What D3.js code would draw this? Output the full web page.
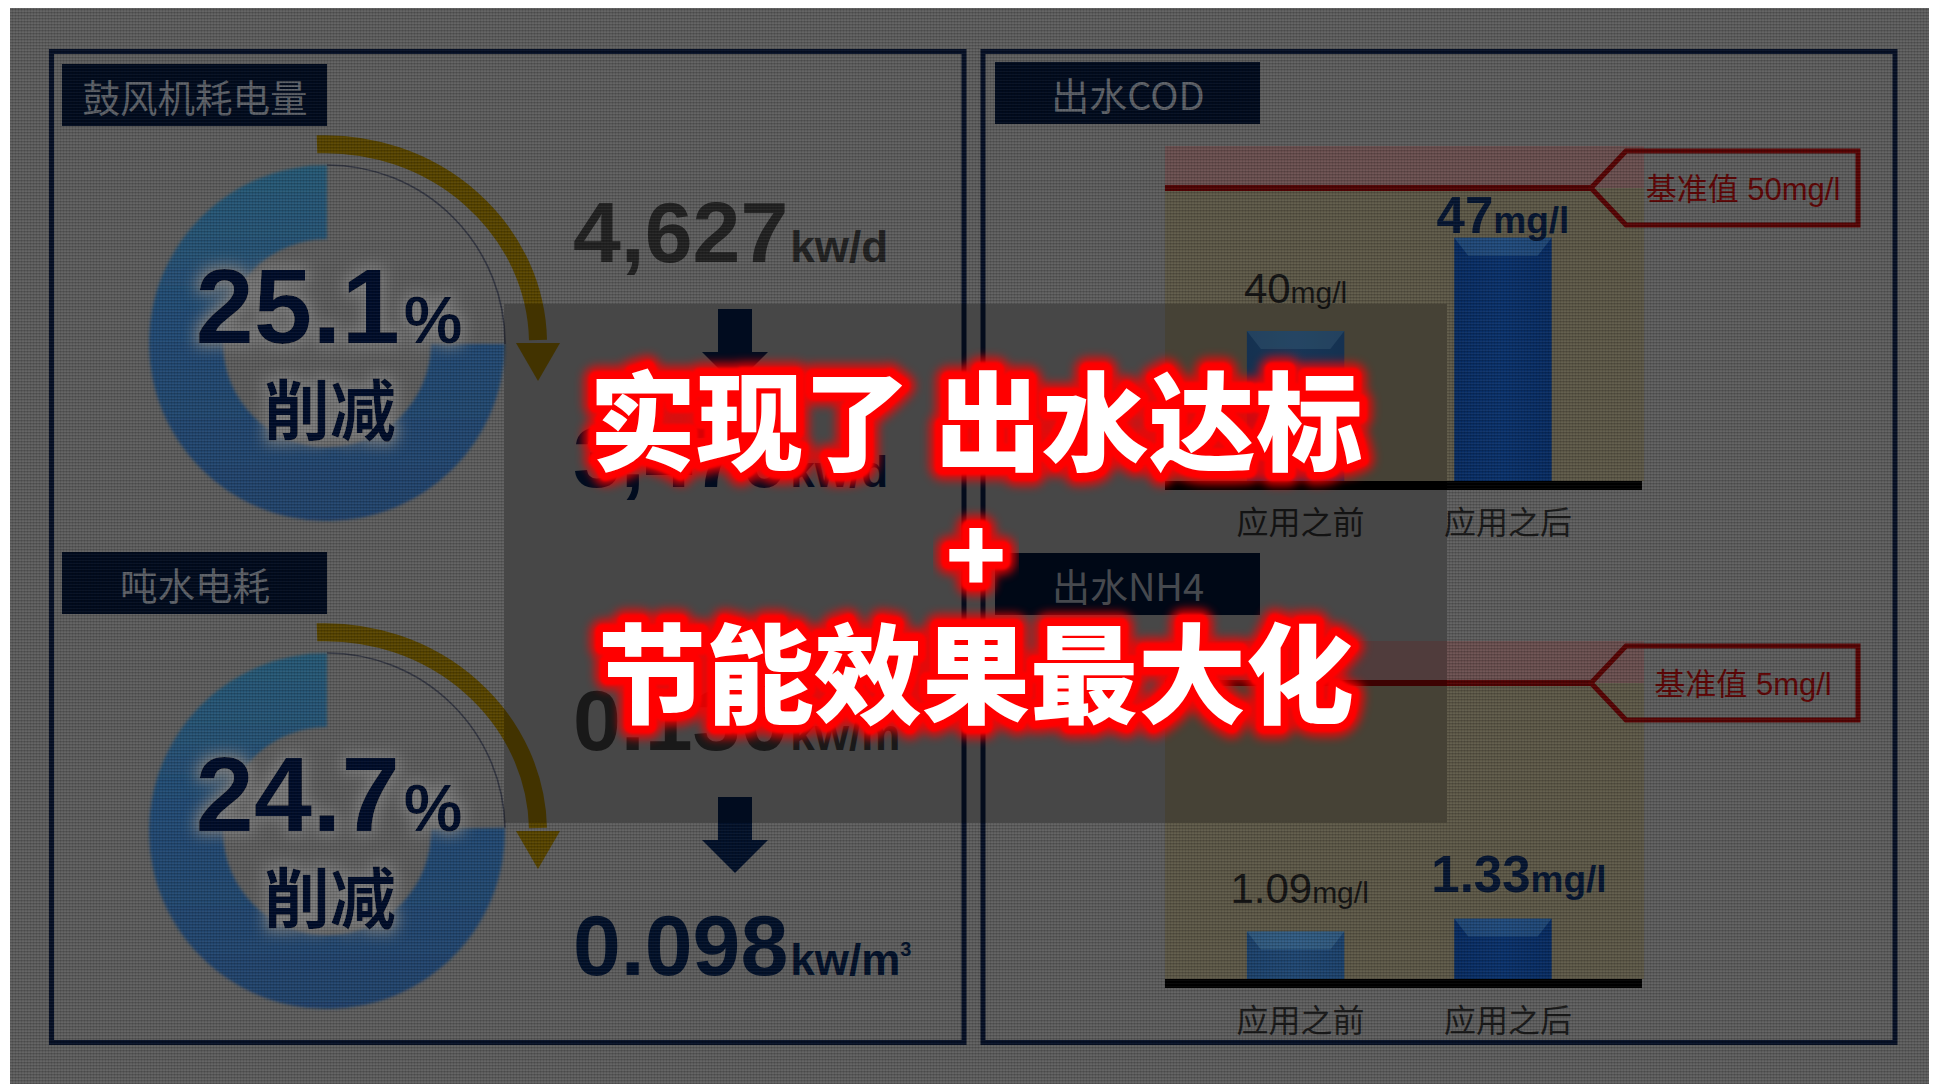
<!DOCTYPE html>
<html>
<head>
<meta charset="utf-8">
<script src="https://cdn.jsdelivr.net/npm/d3@7"></script>
<style>
  html, body { margin: 0; padding: 0; background: #ffffff; overflow: hidden; }
  svg { display: block; }
</style>
</head>
<body>
<svg id="chart" width="1934" height="1084"></svg>
<script>
// ---- energy panel data ----
const energyTitles = ["鼓风机耗电量", "吨水电耗"];
const reductionPct = [25.1, 24.7];
const reductionLabel = "削减";
const beforeValues = [4627, 0.130];
const afterValues = [3470, 0.098];
const valueFormats = [",", ".3f"];
const energyUnits = ["kw/d", "kw/m"];
const unitSuperscripts = ["", "3"];

// ---- water quality data ----
const qualityTitles = ["出水COD", "出水NH4"];
const stageLabels = ["应用之前", "应用之后"];
const codValues = [40, 47];
const nh4Values = [1.09, 1.33];
const limitValues = [50, 5];
const limitPrefix = "基准值";
const concUnit = "mg/l";

// ---- headline ----
const headlineLines = ["实现了 出水达标", "+", "节能效果最大化"];

const svg = d3.select("#chart");
const W = 1934, H = 1084;
const CJK = "'Noto Sans CJK SC', 'Noto Sans', sans-serif";
const LAT = "'Liberation Sans', Arial, 'Noto Sans CJK SC', sans-serif";

// ---------- defs ----------
const defs = svg.append("defs");

// fine woven surface texture (mostly darkening lines)
const mesh = defs.append("pattern").attr("id", "mesh")
  .attr("width", 3).attr("height", 3).attr("patternUnits", "userSpaceOnUse");
mesh.append("rect").attr("width", 3).attr("height", 1).attr("fill", "#000").attr("fill-opacity", 0.13);
mesh.append("rect").attr("width", 1).attr("height", 3).attr("fill", "#000").attr("fill-opacity", 0.1);
mesh.append("rect").attr("y", 2).attr("width", 3).attr("height", 1).attr("fill", "#fff").attr("fill-opacity", 0.04);

const ringGrad = defs.append("linearGradient").attr("id", "ringGrad")
  .attr("x1", 0).attr("y1", 0).attr("x2", 0).attr("y2", 1);
ringGrad.append("stop").attr("offset", "0%").attr("stop-color", "#285a76");
ringGrad.append("stop").attr("offset", "45%").attr("stop-color", "#234b74");
ringGrad.append("stop").attr("offset", "100%").attr("stop-color", "#20436c");

const soft = defs.append("filter").attr("id", "soft")
  .attr("x", "-10%").attr("y", "-10%").attr("width", "120%").attr("height", "120%");
soft.append("feGaussianBlur").attr("stdDeviation", 1.6);

const halo = defs.append("filter").attr("id", "halo")
  .attr("x", "-30%").attr("y", "-30%").attr("width", "160%").attr("height", "160%");
halo.append("feMorphology").attr("in", "SourceAlpha").attr("operator", "dilate").attr("radius", 4).attr("result", "d");
halo.append("feGaussianBlur").attr("in", "d").attr("stdDeviation", 7).attr("result", "b");
halo.append("feFlood").attr("flood-color", "#7e7e7e").attr("flood-opacity", 0.95);
halo.append("feComposite").attr("in2", "b").attr("operator", "in").attr("result", "g");
const hm = halo.append("feMerge");
hm.append("feMergeNode").attr("in", "g");
hm.append("feMergeNode").attr("in", "SourceGraphic");

const glowWide = defs.append("filter").attr("id", "glowWide")
  .attr("x", "-20%").attr("y", "-40%").attr("width", "140%").attr("height", "180%");
glowWide.append("feGaussianBlur").attr("stdDeviation", 5);
const glowTight = defs.append("filter").attr("id", "glowTight")
  .attr("x", "-20%").attr("y", "-40%").attr("width", "140%").attr("height", "180%");
glowTight.append("feGaussianBlur").attr("stdDeviation", 1.2);

["before", "after"].forEach((k, i) => {
  const g = defs.append("linearGradient").attr("id", "bar-" + k)
    .attr("x1", 0).attr("y1", 0).attr("x2", 1).attr("y2", 0);
  const c = i === 0 ? ["#1c426c", "#204874", "#1c426c"] : ["#082c62", "#0a326c", "#082c62"];
  g.append("stop").attr("offset", "0%").attr("stop-color", c[0]);
  g.append("stop").attr("offset", "50%").attr("stop-color", c[1]);
  g.append("stop").attr("offset", "100%").attr("stop-color", c[2]);
});

// ---------- background ----------
const area = { x: 10, y: 8, w: 1919, h: H - 8 };
svg.append("rect").attr("width", W).attr("height", H).attr("fill", "#ffffff");
svg.append("rect").attr("x", area.x).attr("y", area.y).attr("width", area.w).attr("height", area.h)
  .attr("fill", "#5f5f5f");

const panelColor = "#061026";
const boxColor = "#010b1e";
const panels = [
  { x: 51.5, y: 51.5, w: 912.5, h: 991 },
  { x: 983, y: 51.5, w: 912, h: 991 }
];
svg.selectAll("rect.panel").data(panels).join("rect").attr("class", "panel")
  .attr("x", d => d.x).attr("y", d => d.y).attr("width", d => d.w).attr("height", d => d.h)
  .attr("fill", "none").attr("stroke", panelColor).attr("stroke-width", 5);

const ROW = 488;

// ---------- energy (left) panel ----------
const pie = d3.pie().sort(null).value(d => d);
const ringArc = d3.arc().innerRadius(104).outerRadius(178);
const rimArc = d3.arc().innerRadius(178).outerRadius(178);
const fmtPct = d3.format(".1f");

energyTitles.forEach((title, i) => {
  const oy = i * ROW;
  const g = svg.append("g");

  // title box
  g.append("rect").attr("x", 62).attr("y", 64 + oy).attr("width", 265).attr("height", 62)
    .attr("fill", boxColor);
  g.append("text").attr("x", 195).attr("y", 95 + oy)
    .attr("text-anchor", "middle").attr("dominant-baseline", "central")
    .attr("font-family", CJK).attr("font-size", 37.5).attr("fill", "#5e6269")
    .text(title);

  // donut: reduced share left open, remaining share filled
  const cx = 327, cy = 343 + oy;
  const slices = pie([reductionPct[i], 100 - reductionPct[i]]);
  const dg = g.append("g").attr("transform", `translate(${cx},${cy})`);
  dg.append("path").attr("d", ringArc(slices[1])).attr("fill", "url(#ringGrad)")
    .attr("filter", "url(#soft)");
  dg.append("path").attr("d", rimArc(slices[0])).attr("fill", "none")
    .attr("stroke", "#343743").attr("stroke-width", 1.6);

  // curved arrow over the reduced share
  const rx = 213, ry = 200, ax = 325, ay = 344 + oy;
  const arcPath = `M${ax - 8},${ay - ry + 0.3} A${rx},${ry} 0 0 1 ${ax + rx},${ay - 4}`;
  g.append("path").attr("d", arcPath).attr("fill", "none")
    .attr("stroke", "#584500").attr("stroke-width", 18);
  g.append("path")
    .attr("d", `M${ax + rx - 22},${ay - 1} L${ax + rx + 22},${ay - 1} L${ax + rx},${ay + 37} Z`)
    .attr("fill", "#584500");

  // percentage label
  const pt = g.append("text").attr("x", 329).attr("y", 343 + oy)
    .attr("text-anchor", "middle").attr("font-family", LAT).attr("font-weight", "bold")
    .attr("fill", "#00102a").attr("filter", "url(#halo)");
  pt.append("tspan").attr("font-size", 105).text(fmtPct(reductionPct[i]));
  pt.append("tspan").attr("font-size", 66).attr("dx", 4).text("%");
  g.append("text").attr("x", 330).attr("y", 406 + oy)
    .attr("text-anchor", "middle").attr("dominant-baseline", "central")
    .attr("font-family", CJK).attr("font-weight", "bold").attr("font-size", 66)
    .attr("fill", "#00102a").attr("filter", "url(#halo)")
    .text(reductionLabel);

  // before / after values
  const fmt = d3.format(valueFormats[i]);
  const addValue = (v, y, color) => {
    const t = g.append("text").attr("x", 573).attr("y", y)
      .attr("font-family", LAT).attr("font-weight", "bold").attr("fill", color);
    t.append("tspan").attr("font-size", 86).text(fmt(v));
    t.append("tspan").attr("font-size", 44).attr("dx", 2).text(energyUnits[i]);
    if (unitSuperscripts[i]) {
      t.append("tspan").attr("font-size", 20).attr("dy", -19).text(unitSuperscripts[i]);
    }
  };
  addValue(beforeValues[i], 262 + oy, "#222222");
  addValue(afterValues[i], 487 + oy, "#02112a");

  // down arrow
  const axc = 735, top = 309 + oy;
  g.append("path")
    .attr("d", `M${axc - 17},${top} L${axc + 17},${top} L${axc + 17},${top + 43} L${axc + 33},${top + 43} L${axc},${top + 76} L${axc - 33},${top + 43} L${axc - 17},${top + 43} Z`)
    .attr("fill", "#02112a");
});

// ---------- water quality (right) panel ----------
const x = d3.scaleBand().domain(stageLabels).range([1165, 1644])
  .paddingInner(0.53).paddingOuter(0.42).align(0.47);

const charts = [
  { title: qualityTitles[0], values: codValues, limit: limitValues[0],
    y: d3.scalePow().exponent(3).domain([0, limitValues[0]]).range([481, 188]),
    titleY: 62, valueFmt: d3.format("d"), labelGap: [28, 5], labelDx: [0, 0] },
  { title: qualityTitles[1], values: nh4Values, limit: limitValues[1],
    y: d3.scalePow().exponent(1.2).domain([0, limitValues[1]]).range([979, 683]),
    titleY: 553, valueFmt: d3.format(".2f"), labelGap: [28, 27], labelDx: [4, 16] }
];

charts.forEach(c => {
  const g = svg.append("g");
  const [x0, x1] = x.range();
  const base = c.y(0), lim = c.y(c.limit);

  g.append("rect").attr("x", 995).attr("y", c.titleY).attr("width", 265).attr("height", 62)
    .attr("fill", boxColor);
  g.append("text").attr("x", 1128).attr("y", c.titleY + 31)
    .attr("text-anchor", "middle").attr("dominant-baseline", "central")
    .attr("font-family", CJK).attr("font-size", 38).attr("fill", "#5e6269")
    .text(c.title);

  // plot background and limit band
  g.append("rect").attr("x", x0).attr("y", lim).attr("width", x1 - x0).attr("height", base - lim)
    .attr("fill", "#5e5948");
  g.append("rect").attr("x", x0).attr("y", lim - 42).attr("width", x1 - x0).attr("height", 42)
    .attr("fill", "#6b5050");

  // bars
  c.values.forEach((v, j) => {
    const bx = x(stageLabels[j]), bw = x.bandwidth(), by = c.y(v);
    g.append("rect").attr("x", bx).attr("y", by).attr("width", bw).attr("height", base - by)
      .attr("fill", `url(#bar-${j === 0 ? "before" : "after"})`);
    g.append("path")
      .attr("d", `M${bx},${by} L${bx + bw},${by} L${bx + bw - 14},${by + 18} L${bx + 14},${by + 18} Z`)
      .attr("fill", "#7fb4c8").attr("fill-opacity", 0.2);
    // value label
    const strong = j === 1;
    const t = g.append("text").attr("x", bx + bw / 2 + c.labelDx[j]).attr("y", by - c.labelGap[j])
      .attr("text-anchor", "middle").attr("font-family", LAT)
      .attr("font-weight", strong ? "bold" : "normal")
      .attr("fill", strong ? "#061632" : "#141414");
    t.append("tspan").attr("font-size", strong ? 51 : 42).text(c.valueFmt(v));
    t.append("tspan").attr("font-size", strong ? 37 : 30).text(concUnit);
  });

  // baseline axis
  g.append("line").attr("x1", x0).attr("x2", x1 - 2).attr("y1", base + 4.5).attr("y2", base + 4.5)
    .attr("stroke", "#000").attr("stroke-width", 9);
  g.selectAll("text.cat").data(stageLabels).join("text").attr("class", "cat")
    .attr("x", d => x(d) + x.bandwidth() / 2 + 5).attr("y", base + 39)
    .attr("text-anchor", "middle").attr("dominant-baseline", "central")
    .attr("font-family", CJK).attr("font-size", 32).attr("fill", "#1a1a1a")
    .text(d => d);

  // limit line and callout
  g.append("line").attr("x1", x0).attr("x2", 1592).attr("y1", lim).attr("y2", lim)
    .attr("stroke", "#520303").attr("stroke-width", 6);
  g.append("path")
    .attr("d", `M1591,${lim} L1626,${lim - 37} L1858,${lim - 37} L1858,${lim + 37} L1626,${lim + 37} Z`)
    .attr("fill", "none").attr("stroke", "#580404").attr("stroke-width", 5).attr("stroke-linejoin", "miter");
  g.append("text").attr("x", 1743).attr("y", lim + 1)
    .attr("text-anchor", "middle").attr("dominant-baseline", "central")
    .attr("font-family", LAT).attr("font-size", 31).attr("fill", "#600606")
    .text(`${limitPrefix} ${c.limit}${concUnit}`);
});

// ---------- surface texture and dimmed centre block ----------
const dim = { x: 504, y: 304, w: 943, h: 519 };
svg.append("path")
  .attr("d", `M${area.x},${area.y}h${area.w}v${area.h}h${-area.w}Z M${dim.x},${dim.y}v${dim.h}h${dim.w}v${-dim.h}Z`)
  .attr("fill", "url(#mesh)").attr("fill-rule", "evenodd");
svg.append("rect").attr("x", dim.x).attr("y", dim.y).attr("width", dim.w).attr("height", dim.h)
  .attr("fill", "#000").attr("fill-opacity", 0.25);

// ---------- headline ----------
const headY = [415, 549, 668];
const headSize = [107, 100, 108];
const hg = svg.append("g").attr("font-family", CJK).attr("font-weight", 900)
  .attr("text-anchor", "middle").attr("dominant-baseline", "central");
const layers = [
  { stroke: "#ff0000", sw: 26, filter: "url(#glowWide)", fill: "#ff0000", op: 0.85 },
  { stroke: "#ff0000", sw: 16, filter: "url(#glowTight)", fill: "#ff0000", op: 1 },
  { stroke: "none", sw: 0, filter: null, fill: "#ffffff", op: 1 }
];
layers.forEach(L => {
  hg.selectAll(null).data(headlineLines).join("text")
    .attr("x", 976).attr("y", (d, i) => headY[i])
    .attr("font-size", (d, i) => headSize[i])
    .attr("fill", L.fill).attr("stroke", L.stroke).attr("stroke-width", L.sw)
    .attr("stroke-linejoin", "round").attr("opacity", L.op)
    .attr("filter", L.filter)
    .text(d => d);
});
</script>
</body>
</html>
